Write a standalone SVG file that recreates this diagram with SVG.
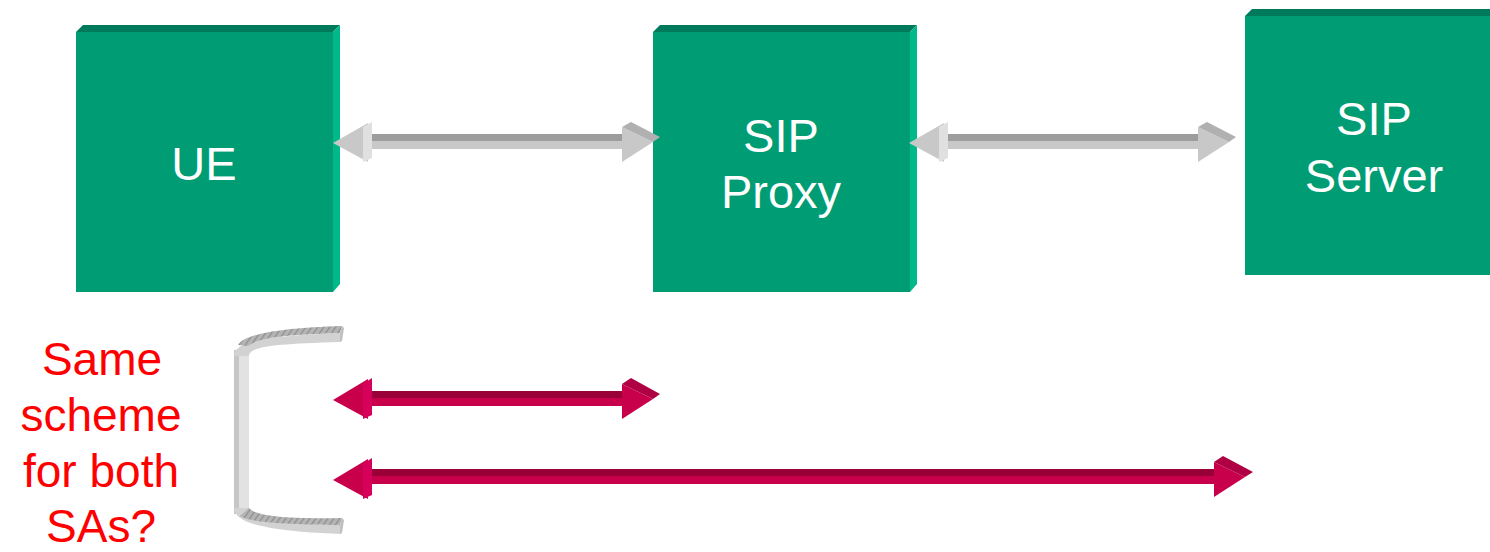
<svg xmlns="http://www.w3.org/2000/svg" width="1490" height="552" viewBox="0 0 1490 552">
  <defs>
    <style>
      .front { fill: #009c74; }
      .top { fill: #007a5a; }
      .side { fill: #00b98a; }
      .label { font-family: "Liberation Sans", Arial, sans-serif; font-size: 47px; fill: #ffffff; text-anchor: middle; }
      .note { font-family: "Liberation Sans", Arial, sans-serif; font-size: 46px; fill: #ff0000; text-anchor: middle; }
      .g-top { fill: #9d9d9d; }
      .g-face { fill: #c8c8c8; }
      .g-flap { fill: #e0e0e0; }
      .g-facet { fill: #b0b0b0; }
      .r-top { fill: #9a0038; }
      .r-face { fill: #c8004c; }
      .r-flap { fill: #d6005a; }
      .r-facet { fill: #ae0042; }
    </style>
    <pattern id="hatch" width="6" height="10" patternUnits="userSpaceOnUse" patternTransform="skewX(-35)">
      <rect width="6" height="10" fill="#b4b4b4"/>
      <rect width="1.5" height="10" fill="#8e8e8e"/>
    </pattern>
  </defs>

  <!-- UE -->
  <g id="ue">
    <polygon class="top" points="83,25 340,25 333,32 76,32"/>
    <polygon class="side" points="333,32 340,25 340,284 333,292"/>
    <rect class="front" x="76" y="32" width="257" height="260"/>
    <text class="label" x="204" y="180">UE</text>
  </g>

  <!-- SIP Proxy -->
  <g id="sip-proxy">
    <polygon class="top" points="660,25 917,25 910,32 653,32"/>
    <polygon class="side" points="910,32 917,25 917,284 910,292"/>
    <rect class="front" x="653" y="32" width="257" height="260"/>
    <text class="label" x="781" y="152">SIP</text>
    <text class="label" x="781" y="208">Proxy</text>
  </g>

  <!-- SIP Server -->
  <g id="sip-server">
    <polygon class="top" points="1252,9 1497,9 1490,16 1245,16"/>
    <rect class="front" x="1245" y="16" width="250" height="259"/>
    <text class="label" x="1374" y="135">SIP</text>
    <text class="label" x="1374" y="192">Server</text>
  </g>

  <!-- Connectors -->
  <g id="connectors">
    <!-- UE <-> SIP Proxy -->
    <g>
      <rect class="g-top" x="368" y="134" width="254" height="7"/>
      <rect class="g-face" x="368" y="141" width="254" height="8"/>
      <polygon class="g-face" points="333,143 368,123 368,162"/>
      <polygon class="g-flap" points="363,127 372,122 372,158 363,162"/>
      <polygon class="g-face" points="622,127 653,142 622,162"/>
      <polygon class="g-facet" points="622,127 631,122 660,137 653,142"/>
    </g>
    <!-- SIP Proxy <-> SIP Server -->
    <g transform="translate(576,0)">
      <rect class="g-top" x="368" y="134" width="254" height="7"/>
      <rect class="g-face" x="368" y="141" width="254" height="8"/>
      <polygon class="g-face" points="333,143 368,123 368,162"/>
      <polygon class="g-flap" points="363,127 372,122 372,158 363,162"/>
      <polygon class="g-face" points="622,127 653,142 622,162"/>
      <polygon class="g-facet" points="622,127 631,122 660,137 653,142"/>
    </g>
    <!-- SA: UE <-> SIP Proxy -->
    <g transform="translate(0,257)">
      <rect class="r-top" x="368" y="134" width="254" height="7"/>
      <rect class="r-face" x="368" y="141" width="254" height="8"/>
      <polygon class="r-face" points="333,143 368,122 368,162"/>
      <polygon class="r-flap" points="363,127 372,121 372,158 363,162"/>
      <polygon class="r-face" points="622,127 653,142 622,162"/>
      <polygon class="r-facet" points="622,127 631,121 660,137 653,142"/>
    </g>
    <!-- SA: UE <-> SIP Server -->
    <g transform="translate(0,335)">
      <rect class="r-top" x="368" y="134" width="846" height="7"/>
      <rect class="r-face" x="368" y="141" width="846" height="8"/>
      <polygon class="r-face" points="333,145 368,124 368,164"/>
      <polygon class="r-flap" points="363,129 372,123 372,160 363,164"/>
      <polygon class="r-face" points="1214,127 1245,142 1214,162"/>
      <polygon class="r-facet" points="1214,127 1223,121 1253,137 1245,142"/>
    </g>
  </g>

  <!-- Bracket grouping the two SAs -->
  <g id="bracket">
    <!-- vertical bar -->
    <rect x="234" y="350" width="15" height="164" fill="#e2e2e2"/>
    <rect x="234" y="350" width="5" height="164" fill="#c6c6c6"/>
    <!-- top arm: front face then hatched top -->
    <path d="M234,356 C234,342 262,336 340,333 L340,342 C270,344 249,347 249,356 Z" fill="#d2d2d2"/>
    <path d="M238,345 C244,334 280,328 342,326 L340,333 C282,335 258,338 248,346 Z" fill="url(#hatch)"/>
    <polygon points="340,333 342,326 344,328 342,341 340,342" fill="#c0c0c0"/>
    <!-- bottom arm: front face then hatched top -->
    <path d="M234,508 C234,522 262,531 340,534 L340,525 C270,523 249,518 249,508 Z" fill="#d2d2d2"/>
    <path d="M249,508 C256,516 282,519 342,518 L340,525 C276,524 250,522 240,516 Z" fill="url(#hatch)"/>
    <polygon points="340,525 342,518 344,520 342,533 340,534" fill="#c0c0c0"/>
  </g>

  <!-- Question text -->
  <g id="note">
    <text class="note" x="102" y="375">Same</text>
    <text class="note" x="101" y="431">scheme</text>
    <text class="note" x="101" y="487">for both</text>
    <text class="note" x="101" y="542">SAs?</text>
  </g>
</svg>
